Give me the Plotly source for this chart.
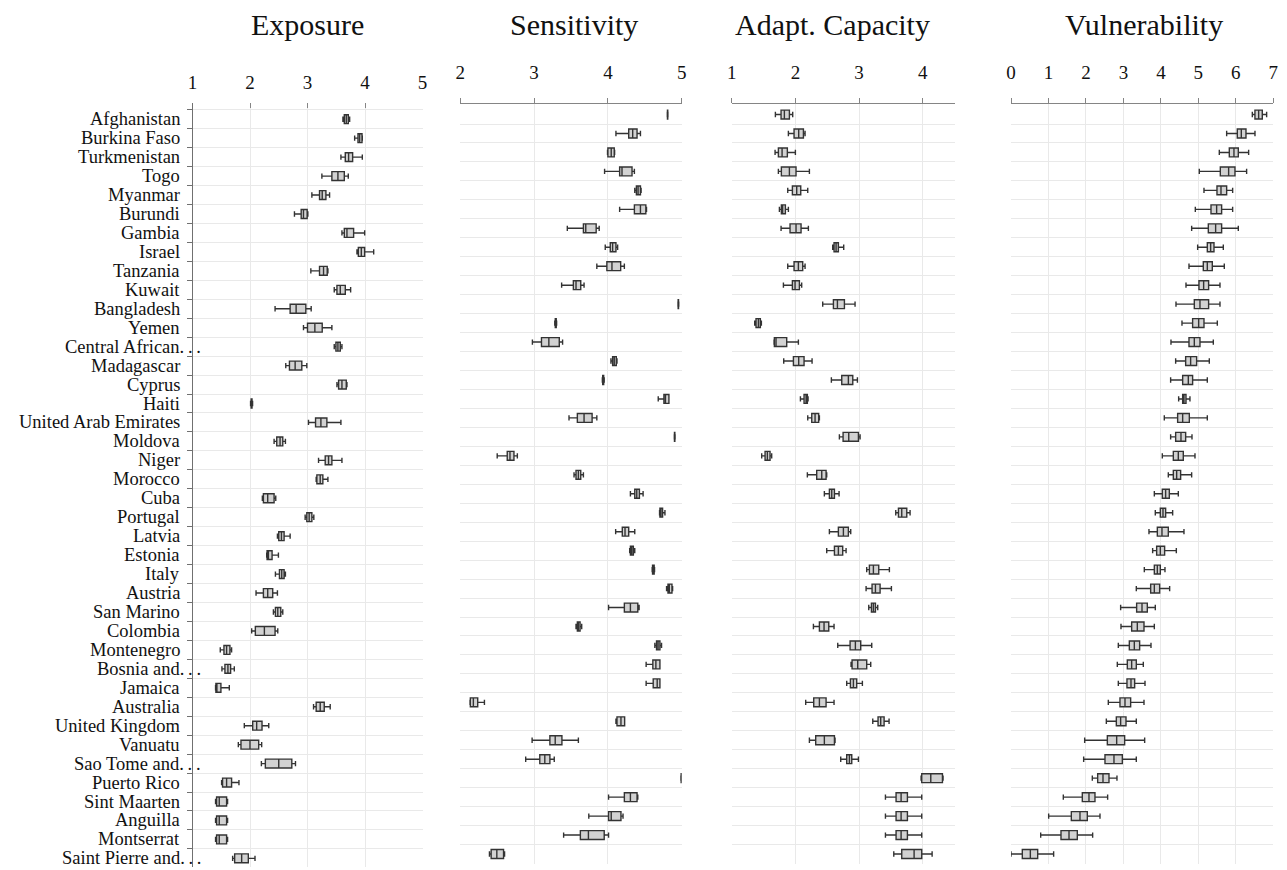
import plotly.graph_objects as go

W, H = 1287, 870
FONT = "Liberation Serif, Times New Roman, serif"

countries = ["Afghanistan", "Burkina Faso", "Turkmenistan", "Togo", "Myanmar", "Burundi", "Gambia",
             "Israel", "Tanzania", "Kuwait", "Bangladesh", "Yemen", "Central African...", "Madagascar",
             "Cyprus", "Haiti", "United Arab Emirates", "Moldova", "Niger", "Morocco", "Cuba", "Portugal",
             "Latvia", "Estonia", "Italy", "Austria", "San Marino", "Colombia", "Montenegro",
             "Bosnia and...", "Jamaica", "Australia", "United Kingdom", "Vanuatu", "Sao Tome and...",
             "Puerto Rico", "Sint Maarten", "Anguilla", "Montserrat", "Saint Pierre and..."]

panel_titles = ["Exposure", "Sensitivity", "Adapt. Capacity", "Vulnerability"]

exposure_low = [3.616, 3.82, 3.581, 3.25, 3.076, 2.773, 3.599, 3.86, 3.058, 3.465, 2.436, 2.93, 3.465, 2.622, 3.512, 2.01, 3.017, 2.419, 3.192, 3.151, 2.215, 2.959, 2.477, 2.291, 2.442, 2.105, 2.407, 2.029, 1.483, 1.512, 1.401, 3.105, 1.901, 1.797, 2.198, 1.506, 1.401, 1.401, 1.401, 1.698]
exposure_q1 = [3.64, 3.878, 3.657, 3.424, 3.209, 2.89, 3.64, 3.884, 3.209, 3.512, 2.698, 3.0, 3.494, 2.686, 3.541, 2.02, 3.14, 2.465, 3.308, 3.163, 2.233, 2.988, 2.5, 2.297, 2.512, 2.233, 2.442, 2.093, 1.547, 1.564, 1.407, 3.151, 2.047, 1.843, 2.267, 1.523, 1.419, 1.419, 1.419, 1.733]
exposure_med = [3.674, 3.907, 3.715, 3.529, 3.256, 2.93, 3.686, 3.936, 3.279, 3.57, 2.802, 3.128, 3.529, 2.785, 3.599, 2.025, 3.233, 2.523, 3.366, 3.221, 2.308, 3.029, 2.547, 2.32, 2.552, 2.308, 2.483, 2.25, 1.593, 1.616, 1.419, 3.221, 2.116, 2.0, 2.5, 1.593, 1.465, 1.465, 1.465, 1.855]
exposure_q3 = [3.71, 3.948, 3.785, 3.64, 3.32, 2.994, 3.802, 3.994, 3.343, 3.657, 2.971, 3.256, 3.57, 2.901, 3.674, 2.035, 3.337, 2.57, 3.424, 3.267, 2.419, 3.076, 2.593, 2.384, 2.593, 2.395, 2.535, 2.436, 1.651, 1.663, 1.494, 3.291, 2.209, 2.151, 2.727, 1.68, 1.593, 1.593, 1.593, 1.971]
exposure_high = [3.733, 3.953, 3.953, 3.709, 3.384, 3.006, 3.994, 4.151, 3.355, 3.75, 3.064, 3.424, 3.599, 2.988, 3.686, 2.045, 3.581, 2.616, 3.599, 3.355, 2.448, 3.11, 2.698, 2.494, 2.616, 2.477, 2.57, 2.483, 1.68, 1.727, 1.64, 3.395, 2.326, 2.203, 2.791, 1.808, 1.61, 1.61, 1.61, 2.087]

sensitivity_low = [4.805, 4.109, 3.995, 3.955, 4.364, 4.159, 3.45, 3.964, 3.85, 3.373, 4.95, 3.28, 2.977, 4.041, 3.925, 4.682, 3.473, 4.9, 2.5, 3.541, 4.305, 4.7, 4.105, 4.295, 4.6, 4.795, 4.009, 3.568, 4.636, 4.518, 4.518, 2.132, 4.109, 2.973, 2.886, 4.99, 4.009, 3.741, 3.4, 2.395]
sensitivity_q1 = [4.807, 4.282, 4.0, 4.159, 4.386, 4.359, 3.668, 4.032, 3.986, 3.532, 4.952, 3.287, 3.1, 4.064, 3.93, 4.759, 3.586, 4.902, 2.636, 3.568, 4.364, 4.705, 4.195, 4.305, 4.605, 4.814, 4.223, 3.586, 4.659, 4.609, 4.614, 2.136, 4.123, 3.214, 3.077, 4.993, 4.223, 4.009, 3.627, 2.418]
sensitivity_med = [4.809, 4.336, 4.045, 4.191, 4.409, 4.441, 3.7, 4.064, 4.055, 3.568, 4.955, 3.293, 3.2, 4.086, 3.936, 4.78, 3.677, 4.905, 2.673, 3.6, 4.391, 4.714, 4.232, 4.323, 4.614, 4.832, 4.305, 3.6, 4.68, 4.65, 4.668, 2.177, 4.177, 3.286, 3.145, 4.995, 4.305, 4.045, 3.736, 2.495]
sensitivity_q3 = [4.811, 4.395, 4.086, 4.327, 4.441, 4.514, 3.841, 4.109, 4.173, 3.632, 4.957, 3.3, 3.341, 4.114, 3.943, 4.827, 3.786, 4.907, 2.727, 3.632, 4.427, 4.741, 4.282, 4.345, 4.627, 4.868, 4.405, 3.623, 4.705, 4.705, 4.705, 2.236, 4.227, 3.377, 3.214, 4.997, 4.395, 4.177, 3.95, 2.586]
sensitivity_high = [4.813, 4.441, 4.091, 4.359, 4.45, 4.523, 3.882, 4.132, 4.223, 3.677, 4.96, 3.305, 3.386, 4.123, 3.95, 4.827, 3.85, 4.91, 2.773, 3.668, 4.477, 4.773, 4.364, 4.364, 4.632, 4.877, 4.423, 3.645, 4.727, 4.705, 4.705, 2.327, 4.227, 3.6, 3.273, 5.0, 4.405, 4.205, 4.009, 2.6]

adapt_low = [1.686, 1.89, 1.681, 1.733, 1.88, 1.749, 1.775, 2.586, 1.88, 1.812, 2.429, 1.361, 1.665, 1.817, 2.565, 2.079, 2.194, 2.691, 1.471, 2.188, 2.455, 3.576, 2.534, 2.492, 3.12, 3.11, 3.152, 2.283, 2.665, 2.874, 2.806, 2.162, 3.215, 2.22, 2.712, 3.974, 3.414, 3.414, 3.414, 3.545]
adapt_q1 = [1.775, 1.979, 1.733, 1.78, 1.953, 1.78, 1.916, 2.607, 1.979, 1.953, 2.597, 1.382, 1.67, 1.969, 2.728, 2.136, 2.257, 2.749, 1.524, 2.335, 2.534, 3.618, 2.675, 2.613, 3.162, 3.204, 3.194, 2.377, 2.859, 2.89, 2.864, 2.288, 3.298, 2.319, 2.806, 3.984, 3.581, 3.581, 3.581, 3.67]
adapt_med = [1.827, 2.052, 1.791, 1.906, 2.021, 1.8, 2.01, 2.639, 2.047, 1.995, 2.66, 1.419, 1.696, 2.052, 2.832, 2.168, 2.309, 2.838, 1.56, 2.414, 2.571, 3.67, 2.754, 2.675, 3.225, 3.257, 3.225, 2.45, 2.942, 2.979, 2.911, 2.377, 3.34, 2.455, 2.848, 4.126, 3.66, 3.66, 3.66, 3.864]
adapt_q3 = [1.906, 2.126, 1.874, 2.01, 2.084, 1.843, 2.089, 2.675, 2.115, 2.063, 2.77, 1.45, 1.864, 2.136, 2.901, 2.188, 2.366, 2.99, 1.602, 2.482, 2.613, 3.749, 2.832, 2.743, 3.309, 3.33, 3.257, 2.524, 3.026, 3.12, 2.963, 2.482, 3.393, 2.613, 2.885, 4.309, 3.759, 3.759, 3.759, 3.984]
adapt_high = [1.958, 2.152, 2.0, 2.22, 2.194, 1.89, 2.204, 2.759, 2.152, 2.099, 2.937, 1.466, 2.047, 2.262, 2.974, 2.199, 2.377, 3.016, 1.628, 2.492, 2.686, 3.801, 2.869, 2.796, 3.476, 3.508, 3.293, 2.607, 3.199, 3.183, 3.052, 2.607, 3.471, 2.623, 2.99, 4.319, 3.984, 3.984, 3.984, 4.147]

vuln_low = [6.44, 5.755, 5.559, 5.025, 5.15, 4.919, 4.821, 4.981, 4.75, 4.67, 4.403, 4.563, 4.269, 4.394, 4.26, 4.474, 4.091, 4.26, 4.038, 4.198, 3.825, 3.851, 3.682, 3.78, 3.558, 3.344, 2.926, 2.935, 2.864, 2.837, 2.864, 2.597, 2.544, 1.966, 1.939, 2.17, 1.396, 1.005, 0.792, 0.0]
vuln_q1 = [6.51, 6.039, 5.826, 5.586, 5.497, 5.337, 5.266, 5.239, 5.132, 5.016, 4.892, 4.847, 4.75, 4.661, 4.581, 4.581, 4.447, 4.394, 4.332, 4.332, 4.038, 3.985, 3.905, 3.887, 3.825, 3.727, 3.353, 3.22, 3.158, 3.104, 3.095, 2.908, 2.811, 2.571, 2.508, 2.313, 1.903, 1.61, 1.334, 0.302]
vuln_med = [6.609, 6.146, 5.95, 5.808, 5.604, 5.488, 5.461, 5.328, 5.239, 5.141, 5.043, 5.008, 4.892, 4.794, 4.732, 4.616, 4.581, 4.536, 4.465, 4.421, 4.127, 4.056, 4.029, 3.985, 3.905, 3.825, 3.496, 3.371, 3.291, 3.22, 3.202, 3.042, 2.926, 2.82, 2.748, 2.455, 2.081, 1.841, 1.548, 0.516]
vuln_q3 = [6.706, 6.271, 6.066, 5.977, 5.755, 5.621, 5.621, 5.417, 5.372, 5.274, 5.274, 5.15, 5.043, 4.954, 4.847, 4.67, 4.759, 4.661, 4.598, 4.527, 4.225, 4.127, 4.198, 4.1, 3.985, 3.967, 3.638, 3.549, 3.433, 3.344, 3.3, 3.193, 3.069, 3.033, 2.971, 2.615, 2.241, 2.037, 1.77, 0.712]
vuln_high = [6.822, 6.511, 6.342, 6.288, 5.915, 5.915, 6.066, 5.666, 5.692, 5.577, 5.577, 5.506, 5.399, 5.292, 5.239, 4.776, 5.239, 4.83, 4.91, 4.821, 4.465, 4.314, 4.616, 4.412, 4.109, 4.234, 3.851, 3.825, 3.736, 3.531, 3.576, 3.549, 3.344, 3.567, 3.344, 2.828, 2.579, 2.375, 2.179, 1.138]

x_ranges = [[1, 5], [2, 5], [1, 4.5], [0, 7]]
x_ticks = [[1, 2, 3, 4, 5], [2, 3, 4, 5], [1, 2, 3, 4], [0, 1, 2, 3, 4, 5, 6, 7]]

stats = [
    (exposure_low, exposure_q1, exposure_med, exposure_q3, exposure_high),
    (sensitivity_low, sensitivity_q1, sensitivity_med, sensitivity_q3, sensitivity_high),
    (adapt_low, adapt_q1, adapt_med, adapt_q3, adapt_high),
    (vuln_low, vuln_q1, vuln_med, vuln_q3, vuln_high),
]

# layout geometry (pixels)
x_dom_px = [(192.5, 422.5), (460.3, 681.7), (731.7, 954.6), (1011, 1273.3)]
y_dom_px = [(103.3, 866.7), (104.1, 863.5), (104.1, 863.5), (104.1, 863.5)]
y_rng = [[39.44, -0.84], [39.5, -0.55], [39.5, -0.55], [39.5, -0.55]]
standoff = [10, 12, 12, 12]
title_cx = [307, 574, 832, 1144]

GRID = "#e9e9e9"
AXIS = "#858585"
LABEL_SIZE = 18.5

fig = go.Figure()
for i, (lo, q1, md, q3, hi) in enumerate(stats):
    sfx = "" if i == 0 else str(i + 1)
    fig.add_trace(go.Box(
        y=countries, q1=q1, median=md, q3=q3, lowerfence=lo, upperfence=hi,
        orientation="h", xaxis="x" + sfx, yaxis="y" + sfx,
        fillcolor="#d2d2d2", line=dict(color="#333333", width=1.4),
        whiskerwidth=0.6, boxpoints=False, showlegend=False, hoverinfo="skip",
    ))

layout = dict(
    width=W, height=H, autosize=False,
    margin=dict(l=0, r=0, t=0, b=0),
    paper_bgcolor="white", plot_bgcolor="white",
    boxgap=0.33, showlegend=False,
    font=dict(family=FONT, color="#111111", size=19),
)

for i in range(4):
    sfx = "" if i == 0 else str(i + 1)
    x0, x1 = x_dom_px[i]
    yt, yb = y_dom_px[i]
    layout["xaxis" + sfx] = dict(
        domain=[x0 / W, x1 / W], range=x_ranges[i], anchor="y" + sfx, side="top",
        tickmode="array", tickvals=x_ticks[i], ticktext=[str(t) for t in x_ticks[i]],
        showgrid=True, gridcolor=GRID, gridwidth=1, zeroline=False,
        showline=(i != 0), linecolor=AXIS, linewidth=1,
        ticks="inside" if i == 0 else "outside", ticklen=5, tickcolor=AXIS, tickwidth=1,
        ticklabelstandoff=standoff[i],
        tickfont=dict(family=FONT, size=19, color="#111111"),
        automargin=False, fixedrange=True,
    )
    layout["yaxis" + sfx] = dict(
        domain=[1 - yb / H, 1 - yt / H], type="category",
        categoryorder="array", categoryarray=countries,
        range=y_rng[i], anchor="x" + sfx, tickson="boundaries",
        showgrid=True, gridcolor=GRID, gridwidth=1, zeroline=False,
        showline=(i == 0), linecolor="#707070", linewidth=1,
        ticks="outside" if i == 0 else "", ticklen=5, tickcolor="#707070",
        showticklabels=False, automargin=False, fixedrange=True,
    )

annotations = []
for i, t in enumerate(panel_titles):
    annotations.append(dict(
        text=t, x=title_cx[i] / W, y=1 - 24 / H, xref="paper", yref="paper",
        xanchor="center", yanchor="middle", showarrow=False,
        font=dict(family=FONT, size=30, color="#111111"),
    ))

label_right = 180.5
dots = ".\u2009.\u2009."
dots_w = 21.3
for idx, name in enumerate(countries):
    if name.endswith("..."):
        text = name[:-3] + dots
        xr = label_right + dots_w
    else:
        text = name
        xr = label_right
    annotations.append(dict(
        text=text, x=xr / W, y=idx, xref="paper", yref="y",
        xanchor="right", yanchor="middle", showarrow=False, borderpad=0,
        font=dict(family=FONT, size=LABEL_SIZE, color="#111111"),
    ))

layout["annotations"] = annotations
fig.update_layout(**layout)

fig.write_html("out.html", config={"displayModeBar": False},
               post_script="document.body.style.margin='0px';document.body.style.overflow='hidden';")
